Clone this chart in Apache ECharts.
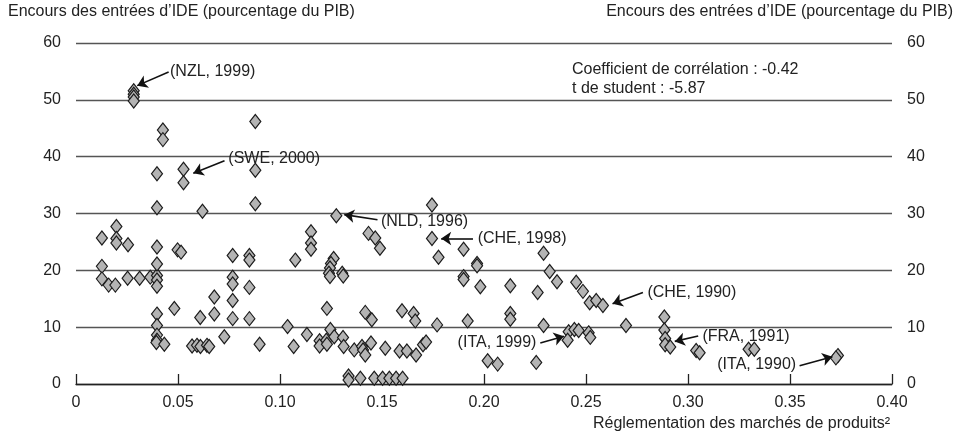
<!DOCTYPE html>
<html>
<head>
<meta charset="utf-8">
<script src="https://cdn.jsdelivr.net/npm/echarts@6/dist/echarts.min.js"></script>
<style>
  html, body { margin: 0; padding: 0; background: #fff; }
  #chart { width: 962px; height: 438px; }
</style>
</head>
<body>
<div id="chart"></div>
<script>
// Product market regulation index (x) and inward FDI stock, % of GDP (y)
const regulation = [
  0.0127, 0.0127, 0.0127, 0.0160, 0.0193, 0.0198, 0.0198, 0.0198, 0.0255, 0.0253,
  0.0312, 0.0364, 0.0397, 0.0397, 0.0397, 0.0397, 0.0397, 0.0397, 0.0397, 0.0283,
  0.0283, 0.0283, 0.0283, 0.0426, 0.0426, 0.0527, 0.0527, 0.0498, 0.0515, 0.0620,
  0.0879, 0.0879, 0.0879, 0.0768, 0.0850, 0.0850, 0.0768, 0.0768, 0.0850, 0.0678,
  0.0768, 0.0482, 0.0678, 0.0397, 0.0609, 0.0768, 0.0850, 0.0397, 0.0397, 0.0397,
  0.0394, 0.0433, 0.0727, 0.0569, 0.0593, 0.0610, 0.0642, 0.0653, 0.0900,
  0.1276, 0.1745, 0.1152, 0.1152, 0.1152, 0.1434, 0.1467, 0.1490, 0.1745, 0.1777,
  0.1900, 0.1900, 0.1900, 0.1966, 0.1966, 0.1982, 0.1075, 0.1263, 0.1250, 0.1245,
  0.1240, 0.1245, 0.1305, 0.1310, 0.1230, 0.1418, 0.1450, 0.1598, 0.1655, 0.1663,
  0.1770, 0.1920, 0.1037, 0.1247, 0.1132, 0.1067, 0.1194, 0.1194, 0.1227, 0.1230,
  0.1266, 0.1309, 0.1312, 0.1364, 0.1402, 0.1407, 0.1418, 0.1446, 0.1516, 0.1586,
  0.1622, 0.1667, 0.1701, 0.1716, 0.1336, 0.1336, 0.1394, 0.1462, 0.1503, 0.1536,
  0.1569, 0.1601,
  0.2292, 0.2129, 0.2263, 0.2322, 0.2358, 0.2452, 0.2485, 0.2518, 0.2550, 0.2583,
  0.2129, 0.2129, 0.2292, 0.2415, 0.2410, 0.2443, 0.2464, 0.2513, 0.2521, 0.2696,
  0.2884, 0.2884, 0.2888, 0.2888, 0.2913, 0.3040, 0.3057, 0.3297, 0.3325, 0.3735,
  0.3725, 0.2018, 0.2067, 0.2256
];
const fdiStock = [
  25.7, 20.7, 18.5, 17.4, 17.4, 27.7, 25.6, 24.8, 24.5, 18.6,
  18.6, 18.8, 19.1, 18.3, 17.2, 21.1, 24.1, 31.0, 37.0, 51.6,
  51.0, 50.5, 49.8, 44.7, 43.0, 37.8, 35.4, 23.6, 23.2, 30.4,
  46.2, 37.6, 31.7, 22.6, 22.6, 21.8, 18.8, 17.6, 17.0, 15.3,
  14.7, 13.3, 12.3, 12.3, 11.7, 11.5, 11.5, 10.3, 8.6, 7.7,
  7.3, 7.0, 8.3, 6.7, 6.8, 6.6, 6.8, 6.6, 7.0,
  29.6, 31.5, 26.8, 24.8, 23.7, 26.5, 25.7, 23.9, 25.6, 22.3,
  23.7, 18.9, 18.4, 21.2, 20.8, 17.1, 21.8, 22.1, 21.2, 20.4,
  19.5, 18.9, 19.5, 19.0, 13.3, 12.6, 11.3, 12.9, 12.4, 11.1,
  10.4, 11.1, 10.1, 9.6, 8.7, 6.6, 7.6, 6.7, 7.7, 7.0,
  8.3, 8.2, 6.6, 6.0, 6.6, 6.0, 5.1, 7.2, 6.3, 5.8,
  5.8, 5.1, 6.9, 7.4, 1.4, 0.7, 1.0, 1.0, 1.0, 1.0,
  1.0, 1.0,
  23.0, 17.3, 16.1, 19.8, 18.0, 17.9, 16.3, 14.3, 14.7, 13.8,
  12.4, 11.4, 10.3, 9.2, 7.7, 9.6, 9.4, 9.0, 8.2, 10.3,
  11.8, 9.5, 8.0, 6.9, 6.5, 5.9, 5.5, 6.1, 6.1, 5.0,
  4.6, 4.1, 3.5, 3.8
];

// Call-outs: label, where the text sits, arrow start and arrow tip (data units)
const calloutText = ['(NZL, 1999)', '(SWE, 2000)', '(NLD, 1996)', '(CHE, 1998)',
                     '(CHE, 1990)', '(ITA, 1999)', '(FRA, 1991)', '(ITA, 1990)'];
const calloutAnchor = [[0.0456, 55.0], [0.0742, 39.7], [0.1490, 28.5], [0.1964, 25.5],
                       [0.2796, 16.0], [0.2262, 7.3], [0.3066, 8.35], [0.3535, 3.5]];
const calloutSide = ['right', 'right', 'right', 'right', 'right', 'left', 'right', 'left'];
const arrowFrom = [[0.0454, 54.9], [0.0728, 39.3], [0.1478, 28.9], [0.1946, 25.6],
                   [0.2779, 16.1], [0.2276, 7.2], [0.3050, 8.45], [0.3547, 3.2]];
const arrowTo = [[0.0300, 52.5], [0.0575, 37.1], [0.1315, 29.8], [0.1790, 25.6],
                 [0.2630, 14.1], [0.2392, 8.4], [0.2935, 7.5], [0.3708, 4.8]];

const xTicks = [0, 0.05, 0.10, 0.15, 0.20, 0.25, 0.30, 0.35, 0.40];
const yTicks = [0, 10, 20, 30, 40, 50, 60];

const FONT = '"Liberation Sans", Arial, Helvetica, sans-serif';
const INK = '#222';

const points = regulation.map((x, i) => [x, fdiStock[i]]);

const chart = echarts.init(document.getElementById('chart'), null, { renderer: 'canvas' });

const yAxisCommon = {
  type: 'value',
  min: yTicks[0],
  max: yTicks[yTicks.length - 1],
  interval: 10,
  axisLine: { show: false },
  axisTick: { show: false },
  axisLabel: { color: INK, fontSize: 16, fontFamily: FONT, margin: 15 }
};

chart.setOption({
  animation: false,
  backgroundColor: '#fff',
  textStyle: { fontFamily: FONT },
  grid: { left: 76, right: 70, top: 43, bottom: 54 },
  xAxis: {
    type: 'value',
    min: xTicks[0],
    max: xTicks[xTicks.length - 1],
    interval: 0.05,
    axisLine: { lineStyle: { color: INK, width: 1.3 } },
    axisTick: { inside: true, length: 10, lineStyle: { color: INK, width: 1.3 } },
    splitLine: { show: false },
    axisLabel: {
      color: INK, fontSize: 16, fontFamily: FONT, margin: 11,
      formatter: v => (v === 0 ? '0' : v.toFixed(2))
    }
  },
  yAxis: [
    Object.assign({}, yAxisCommon, {
      position: 'left',
      splitLine: { show: true, lineStyle: { color: '#555', width: 1.3 } }
    }),
    Object.assign({}, yAxisCommon, {
      position: 'right',
      splitLine: { show: false }
    })
  ],
  series: [{
    type: 'scatter',
    yAxisIndex: 0,
    data: points,
    symbol: 'diamond',
    symbolSize: [11, 14],
    itemStyle: { color: '#b4b4b4', borderColor: '#1c1c1c', borderWidth: 1.2, opacity: 1 },
    markLine: {
      silent: true,
      symbol: ['none', 'arrow'],
      symbolSize: 10,
      itemStyle: { color: '#111' },
      lineStyle: { color: '#111', width: 1.6, type: 'solid' },
      label: { show: false },
      data: arrowFrom.map((p, i) => [{ coord: p }, { coord: arrowTo[i] }])
    },
    markPoint: {
      silent: true,
      symbol: 'circle',
      symbolSize: 0,
      data: calloutText.map((t, i) => ({
        coord: calloutAnchor[i],
        value: t,
        label: {
          show: true,
          position: calloutSide[i],
          distance: 1,
          formatter: t,
          color: INK,
          fontSize: 16,
          fontFamily: FONT
        }
      }))
    }
  }, {
    type: 'scatter',
    yAxisIndex: 1,
    data: []
  }],
  graphic: [
    {
      type: 'text', left: 8, top: 4,
      style: { text: 'Encours des entrées d’IDE (pourcentage du PIB)', fill: INK, font: '16px ' + FONT }
    },
    {
      type: 'text', right: 9, top: 4,
      style: { text: 'Encours des entrées d’IDE (pourcentage du PIB)', fill: INK, font: '16px ' + FONT }
    },
    {
      type: 'text', left: 572, top: 62,
      style: { text: 'Coefficient de corrélation : -0.42', fill: INK, font: '16px ' + FONT }
    },
    {
      type: 'text', left: 572, top: 81,
      style: { text: 't de student : -5.87', fill: INK, font: '16px ' + FONT }
    },
    {
      type: 'text', right: 72, top: 416,
      style: { text: 'Réglementation des marchés de produits²', fill: INK, font: '16px ' + FONT }
    }
  ]
});
</script>
</body>
</html>
